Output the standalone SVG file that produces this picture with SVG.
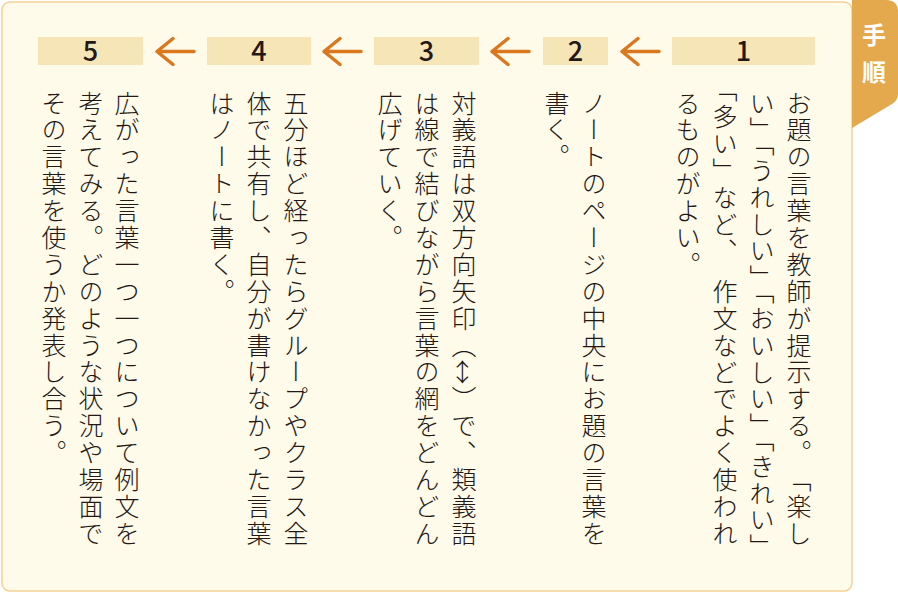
<svg xmlns="http://www.w3.org/2000/svg" width="898" height="600" viewBox="0 0 898 600">
<style>
.bg{fill:#fffbea;stroke:#f3d197;stroke-width:1.5}
.tab{fill:#e3a94c}
.tabt{font-family:"Noto Sans CJK JP",sans-serif;font-size:24px;font-weight:700;fill:#ffffff;writing-mode:vertical-rl;letter-spacing:13px}
.hd{fill:#f6e5b7}
.num{font-family:"Noto Sans CJK JP",sans-serif;font-size:27px;font-weight:500;fill:#231815;text-anchor:middle}
.v{font-family:"Noto Sans CJK JP",sans-serif;font-size:25px;font-weight:300;fill:#231815;writing-mode:vertical-rl;letter-spacing:1.9px;text-spacing-trim:space-all}
.vx{letter-spacing:0}
.arr{fill:none;stroke:#d9781e;stroke-width:3.5;stroke-linecap:round;stroke-linejoin:round}
</style>
<defs>
<path id="arrow" class="arr" d="M0,0 H37 M16,-13 L0,0 L16,13"/>
</defs>
<rect class="bg" x="2" y="2" width="850" height="589" rx="8"/>
<g id="tab">
<path class="tab" d="M852,0 H886 Q898,0 898,12 V94 Q898,100 892,104 L852,128 Z"/>
<text class="tabt" x="874" y="23">手順</text>
</g>
<g id="connectors">
<use href="#arrow" x="622" y="51.5"/>
<use href="#arrow" x="492" y="51.5"/>
<use href="#arrow" x="324" y="51.5"/>
<use href="#arrow" x="157" y="51.5"/>
</g>
<g id="step1">
<rect class="hd" x="672" y="37" width="143" height="28"/>
<text class="num" x="743.5" y="61">1</text>
<text class="v" x="799" y="90.5">お題の言葉を教師が提示する。「楽し</text>
<text class="v vx" x="762" y="90.5 117.4 130.85 157.75 184.65 211.55 238.45 265.35 278.8 305.7 332.6 359.5 386.4 413.3 426.75 453.65 480.55 507.45 534.35">い」「うれしい」「おいしい」「きれい」</text>
<text class="v vx" x="725" y="77.05 103.95 130.85 157.75 184.65 211.55 238.45 278.8 305.7 332.6 359.5 386.4 413.3 440.2 467.1 494 520.9">「多い」など、作文などでよく使われ</text>
<text class="v" x="688" y="90.5">るものがよい。</text>
</g>
<g id="step2">
<rect class="hd" x="543" y="37" width="65" height="28"/>
<text class="num" x="575.5" y="61">2</text>
<text class="v" x="594" y="90.5">ノートのページの中央にお題の言葉を</text>
<text class="v" x="557" y="90.5">書く。</text>
</g>
<g id="step3">
<rect class="hd" x="374" y="37" width="105" height="28"/>
<text class="num" x="426.5" y="61">3</text>
<text class="v" x="464" y="90.5">対義語は双方向矢印（↔）で、類義語</text>
<text class="v" x="427" y="90.5">は線で結びながら言葉の網をどんどん</text>
<text class="v" x="390" y="90.5">広げていく。</text>
</g>
<g id="step4">
<rect class="hd" x="207" y="37" width="104" height="28"/>
<text class="num" x="259" y="61">4</text>
<text class="v" x="296" y="90.5">五分ほど経ったらグループやクラス全</text>
<text class="v" x="259" y="90.5">体で共有し、自分が書けなかった言葉</text>
<text class="v" x="222" y="90.5">はノートに書く。</text>
</g>
<g id="step5">
<rect class="hd" x="38" y="37" width="105" height="28"/>
<text class="num" x="90.5" y="61">5</text>
<text class="v" x="127" y="90.5">広がった言葉一つ一つについて例文を</text>
<text class="v" x="91" y="90.5">考えてみる。どのような状況や場面で</text>
<text class="v" x="54" y="90.5">その言葉を使うか発表し合う。</text>
</g>
</svg>
